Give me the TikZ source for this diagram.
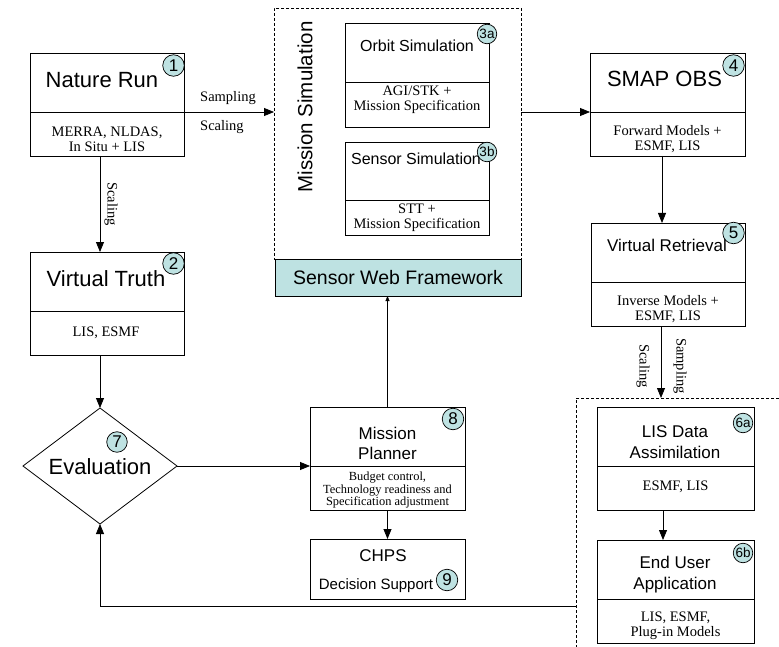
\documentclass[tikz,border=0pt]{standalone}
\usepackage{fontspec}
\setmainfont{Liberation Serif}
\setsansfont{Liberation Sans}
\usetikzlibrary{arrows.meta,shapes.geometric}
\definecolor{tealfill}{RGB}{190,226,226}
\tikzset{
  part/.style={draw, line width=0.8pt, inner sep=0pt, outer sep=0pt},
  ttl/.style 2 args={font=\sffamily\fontsize{#1}{#2}\selectfont, align=center, inner sep=0pt},
  sub/.style={font=\fontsize{14.5}{15}\selectfont, align=center, inner sep=0pt},
  lbl/.style={font=\fontsize{14.5}{15}\selectfont, inner sep=0pt},
  badge/.style={circle, draw, line width=0.7pt, fill=tealfill, inner sep=0pt, minimum size=21.5pt, font=\sffamily\fontsize{17}{17}\selectfont},
  badgesm/.style={circle, draw, line width=0.7pt, fill=tealfill, inner sep=0pt, minimum size=19.5pt, font=\sffamily\fontsize{13.5}{13.5}\selectfont},
  arr/.style={-{Triangle[length=10pt,width=8pt]}, line width=0.8pt},
  thinarr/.style={-{Triangle[length=5pt,width=4pt]}, line width=0.5pt},
  dashline/.style={line width=0.7pt, dash pattern=on 3pt off 2pt},
}
\begin{document}
\begin{tikzpicture}[x=1pt,y=-1pt]
\useasboundingbox (0,0) rectangle (779,647);

% ---------- Nature Run ----------
\node[part, minimum width=154pt, minimum height=59pt] (nrT) at (107,82.5) {};
\node[part, minimum width=154pt, minimum height=44pt] (nrB) at (107,134) {};
\node[ttl={22}{22}] (nrTxt) at (102,80) {Nature Run};
\node[sub] (nrSub) at (107,139.5) {MERRA, NLDAS,\\In Situ + LIS};

% ---------- Virtual Truth ----------
\node[part, minimum width=154pt, minimum height=59pt] (vtT) at (107,281.5) {};
\node[part, minimum width=154pt, minimum height=44pt] (vtB) at (107,333) {};
\node[ttl={22}{22}] (vtTxt) at (106,279) {Virtual Truth};
\node[sub] (vtSub) at (106,333) {LIS, ESMF};

% ---------- Evaluation ----------
\node[diamond, draw, line width=0.8pt, minimum width=154pt, minimum height=116pt, inner sep=0pt, outer sep=0pt] (ev) at (100,466) {};
\node[ttl={22}{22}] (evTxt) at (100,467) {Evaluation};

% ---------- Mission Simulation group ----------
\node[dashline, draw, minimum width=247pt, minimum height=251pt, inner sep=0pt, outer sep=0pt] (ms) at (397.5,133.5) {};
\node[ttl={20.5}{20.5}, rotate=90] (msTxt) at (305,107) {Mission Simulation};

\node[part, minimum width=144pt, minimum height=59pt] (obT) at (417,52.5) {};
\node[part, minimum width=144pt, minimum height=45pt] (obB) at (417,104.5) {};
\node[ttl={16}{16}] (obTxt) at (417,46) {Orbit Simulation};
\node[sub] (obSub) at (417,100) {AGI/STK +\\Mission Specification};

\node[part, minimum width=144pt, minimum height=58pt] (ssT) at (417,171) {};
\node[part, minimum width=144pt, minimum height=35pt] (ssB) at (417,217.5) {};
\node[ttl={16}{16}] (ssTxt) at (416,159) {Sensor Simulation};
\node[sub] (ssSub) at (417,218) {STT +\\Mission Specification};

\node[part, fill=tealfill, minimum width=246pt, minimum height=37pt, font=\sffamily\fontsize{19.5}{19.5}\selectfont] (swf) at (398,277.5) {Sensor Web Framework};

% ---------- SMAP OBS ----------
\node[part, minimum width=155pt, minimum height=59pt] (smT) at (667.5,82.5) {};
\node[part, minimum width=155pt, minimum height=44pt] (smB) at (667.5,134) {};
\node[ttl={22}{22}] (smTxt) at (664.5,79) {SMAP OBS};
\node[sub] (smSub) at (667.5,139.5) {Forward Models +\\ESMF, LIS};

% ---------- Virtual Retrieval ----------
\node[part, minimum width=154pt, minimum height=59pt] (vrT) at (668,252.5) {};
\node[part, minimum width=154pt, minimum height=44pt] (vrB) at (668,304) {};
\node[ttl={17}{17}] (vrTxt) at (667,245) {Virtual Retrieval};
\node[sub] (vrSub) at (668,309.5) {Inverse Models +\\ESMF, LIS};

% ---------- End user group ----------
\coordinate (g2) at (576,398);
\draw[dashline] (779,398) -- (g2) -- (576,647);

\node[part, minimum width=157pt, minimum height=59pt] (laT) at (675.5,436.5) {};
\node[part, minimum width=157pt, minimum height=44pt] (laB) at (675.5,488) {};
\node[ttl={17}{21}] (laTxt) at (675,442) {LIS Data\\Assimilation};
\node[sub] (laSub) at (675.5,487) {ESMF, LIS};

\node[part, minimum width=157pt, minimum height=59pt] (euT) at (675.5,569.5) {};
\node[part, minimum width=157pt, minimum height=44pt] (euB) at (675.5,621) {};
\node[ttl={17}{21}] (euTxt) at (675,575) {End User\\Application};
\node[sub] (euSub) at (675.5,626) {LIS, ESMF,\\Plug-in Models};

% ---------- Mission Planner ----------
\node[part, minimum width=155pt, minimum height=59pt] (mpT) at (387.5,436.5) {};
\node[part, minimum width=155pt, minimum height=44pt] (mpB) at (387.5,488) {};
\node[ttl={17}{20}] (mpTxt) at (387.5,443) {Mission\\Planner};
\node[font=\fontsize{12.4}{12.5}\selectfont, align=center, inner sep=0pt] (mpSub) at (387.5,490.5) {Budget control,\\Technology readiness and\\Specification adjustment};

% ---------- CHPS ----------
\node[part, minimum width=155pt, minimum height=60pt] (chps) at (387.5,569) {};
\node[ttl={17}{17}] (chpsTxt) at (383,556) {CHPS};
\node[ttl={15}{15}] (dsTxt) at (376,586) {Decision Support};

% ---------- Connectors ----------
\draw[arr] (nrB.north east) -- (nrB.north east -| ms.west);
\draw[arr] (ms.east |- smT.south west) -- (smT.south west);
\draw[arr] (ev.north |- nrB.south) -- (ev.north |- vtT.north);
\draw[arr] (ev.north |- vtB.south) -- (ev.north);
\draw[arr] ([xshift=-5.5pt]smB.south) -- ([xshift=-5.5pt]smB.south |- vrT.north);
\draw[arr] ([xshift=-7pt]vrB.south) -- ([xshift=-7pt]vrB.south |- g2);
\draw[arr] ([xshift=-12.5pt]laB.south) -- ([xshift=-12.5pt]laB.south |- euT.north);
\draw[arr] (ev.east) -- (ev.east -| mpT.west);
\draw[arr] (mpB.south) -- (chps.north);
\draw[thinarr] (mpT.north) -- (mpT.north |- swf.south);
\coordinate (fb) at (576,606);
\draw[arr] (fb) -| (ev.south);

% ---------- Connector labels ----------
\node[lbl, anchor=west] (sampA) at (200,98) {Sampling};
\node[lbl, anchor=west] (scalA) at (200,127) {Scaling};
\node[lbl, rotate=-90] (scalB) at (111,204) {Scaling};
\node[lbl, rotate=-90] (scalC) at (643,366) {Scaling};
\node[lbl, rotate=-90] (sampC) at (680,366) {Sampling};

% ---------- Badges ----------
\node[badge] (b1) at (173.5,65.5) {1};
\node[badge] (b2) at (173.5,263.5) {2};
\node[badgesm] (b3a) at (487,34) {3a};
\node[badgesm] (b3b) at (487,152) {3b};
\node[badge] (b4) at (733.5,65.5) {4};
\node[badge] (b5) at (733.5,233) {5};
\node[badgesm] (b6a) at (743,423) {6a};
\node[badgesm] (b6b) at (743,553) {6b};
\node[badge, minimum size=20.5pt] (b7) at (117,442) {7};
\node[badge] (b8) at (453,419) {8};
\node[badge] (b9) at (447,580) {9};
\end{tikzpicture}
\end{document}
